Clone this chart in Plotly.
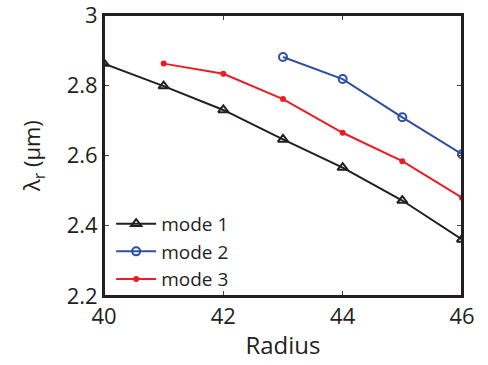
import plotly.graph_objects as go

radius1 = [40, 41, 42, 43, 44, 45, 46]
mode1 = [2.862, 2.798, 2.730, 2.646, 2.566, 2.472, 2.361]
radius2 = [43, 44, 45, 46]
mode2 = [2.881, 2.818, 2.709, 2.604]
radius3 = [41, 42, 43, 44, 45, 46]
mode3 = [2.862, 2.833, 2.761, 2.665, 2.584, 2.480]
xticks = [40, 42, 44, 46]
yticks = [2.2, 2.4, 2.6, 2.8, 3.0]
yticklabels = ["2.2", "2.4", "2.6", "2.8", "3"]

fig = go.Figure()
fig.add_trace(go.Scatter(x=radius1, y=mode1, name="mode 1", mode="lines+markers",
                         line=dict(color="#231f20", width=2),
                         marker=dict(symbol="triangle-up-open", size=9, color="#231f20", line=dict(width=2))))
fig.add_trace(go.Scatter(x=radius2, y=mode2, name="mode 2", mode="lines+markers",
                         line=dict(color="#2e4fa3", width=2),
                         marker=dict(symbol="circle-open", size=8, color="#2e4fa3", line=dict(width=2))))
fig.add_trace(go.Scatter(x=radius3, y=mode3, name="mode 3", mode="lines+markers",
                         line=dict(color="#ed1c24", width=2),
                         marker=dict(symbol="circle", size=6, color="#ed1c24")))

fig.add_shape(type="rect", xref="paper", yref="paper", x0=0, x1=1, y0=0, y1=1,
              line=dict(color="#231f20", width=2), layer="above")

font = "Open Sans, Liberation Sans, sans-serif"
fig.update_layout(
    width=488, height=365,
    margin=dict(l=104, r=26, t=15, b=69),
    paper_bgcolor="white", plot_bgcolor="white",
    font=dict(family=font, size=22, color="#231f20"),
    showlegend=True,
    legend=dict(x=0.02, y=-0.01, xanchor="left", yanchor="bottom",
                bgcolor="rgba(0,0,0,0)", font=dict(size=19),
                tracegroupgap=0, itemwidth=40),
    xaxis=dict(range=[40, 46], tickvals=xticks, ticks="inside", ticklen=5,
               showline=True, linecolor="#231f20", linewidth=2, mirror="ticks",
               showgrid=False, zeroline=False, automargin=False,
               ticklabeloverflow="allow", tickfont=dict(size=22),
               title=dict(text="Radius", font=dict(size=24), standoff=8)),
    yaxis=dict(range=[2.2, 3.0005], tickvals=yticks, ticktext=yticklabels,
               ticks="inside", ticklen=5,
               showline=True, linecolor="#231f20", linewidth=2, mirror="ticks",
               showgrid=False, zeroline=False, automargin=False,
               ticklabeloverflow="allow", tickfont=dict(size=22),
               title=dict(text="λ<sub>r</sub> (μm)", font=dict(size=22), standoff=20)),
)
fig.write_html("out.html")
